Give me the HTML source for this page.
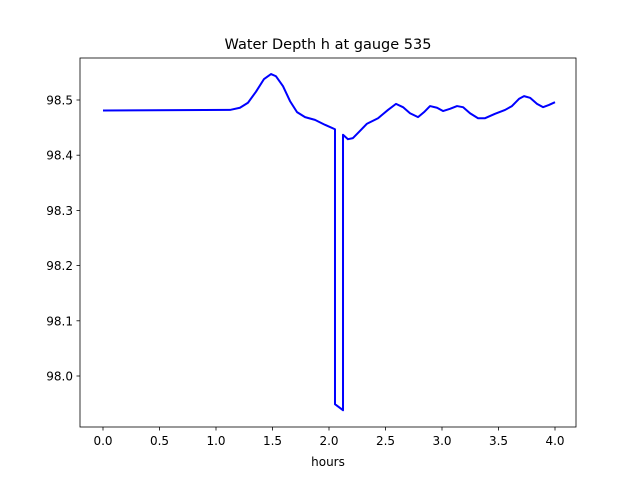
<!DOCTYPE html>
<html><head><meta charset="utf-8"><style>body{margin:0;background:#fff}svg{display:block}text{font-family:"DejaVu Sans","Liberation Sans",sans-serif}</style></head>
<body>
<svg id="c" width="640" height="480"></svg>
<script>
const hours=[0,1.124,1.212,1.283,1.354,1.425,1.487,1.531,1.593,1.655,1.717,1.788,1.876,1.965,2.053,2.053,2.124,2.124,2.168,2.212,2.274,2.336,2.434,2.522,2.593,2.655,2.717,2.788,2.841,2.894,2.956,3.009,3.071,3.133,3.186,3.248,3.319,3.381,3.469,3.558,3.619,3.681,3.726,3.779,3.841,3.894,3.947,4.0];
const depth=[98.481,98.482,98.486,98.495,98.515,98.538,98.547,98.543,98.525,98.498,98.478,98.469,98.464,98.455,98.447,97.949,97.938,98.437,98.429,98.431,98.444,98.457,98.467,98.482,98.493,98.487,98.476,98.469,98.478,98.489,98.486,98.480,98.484,98.489,98.487,98.476,98.467,98.467,98.475,98.482,98.489,98.502,98.507,98.504,98.493,98.487,98.491,98.496];
const xTicks=[0,0.5,1,1.5,2,2.5,3,3.5,4];
const yTicks=[98.0,98.1,98.2,98.3,98.4,98.5];
const NS="http://www.w3.org/2000/svg",svg=document.getElementById('c');
const X=h=>103+113*h, Y=v=>100-(v-98.5)*552;
function mk(t,a,p){const e=document.createElementNS(NS,t);for(const k in a)e.setAttribute(k,a[k]);(p||svg).appendChild(e);return e;}
const frame=mk('rect',{x:80,y:58,width:496,height:369,fill:'none',stroke:'#000','stroke-width':0.8});


xTicks.forEach(t=>{const x=X(t);
 const l=mk('line',{x1:x,x2:x,y1:427,y2:430.5,stroke:'#000','stroke-width':0.8});
 
 
 const tx=mk('text',{x:x,y:445,'text-anchor':'middle','font-size':12});tx.textContent=t.toFixed(1);
 
 });
yTicks.forEach(t=>{const y=Y(t);
 const l=mk('line',{x1:76.5,x2:80,y1:y,y2:y,stroke:'#000','stroke-width':0.8});
 
 
 const tx=mk('text',{x:73,y:y+4.5,'text-anchor':'end','font-size':12});tx.textContent=t.toFixed(1);
 
 });
const path=mk('polyline',{points:hours.map((h,i)=>X(h)+','+Y(depth[i])).join(' '),fill:'none',stroke:'#0000ff','stroke-width':2,'stroke-linejoin':'round'});


const ti=mk('text',{x:328,y:49,'text-anchor':'middle','font-size':14.5});ti.textContent='Water Depth h at gauge 535';


const xl=mk('text',{x:328,y:466,'text-anchor':'middle','font-size':12});xl.textContent='hours';


</script>
</body></html>
